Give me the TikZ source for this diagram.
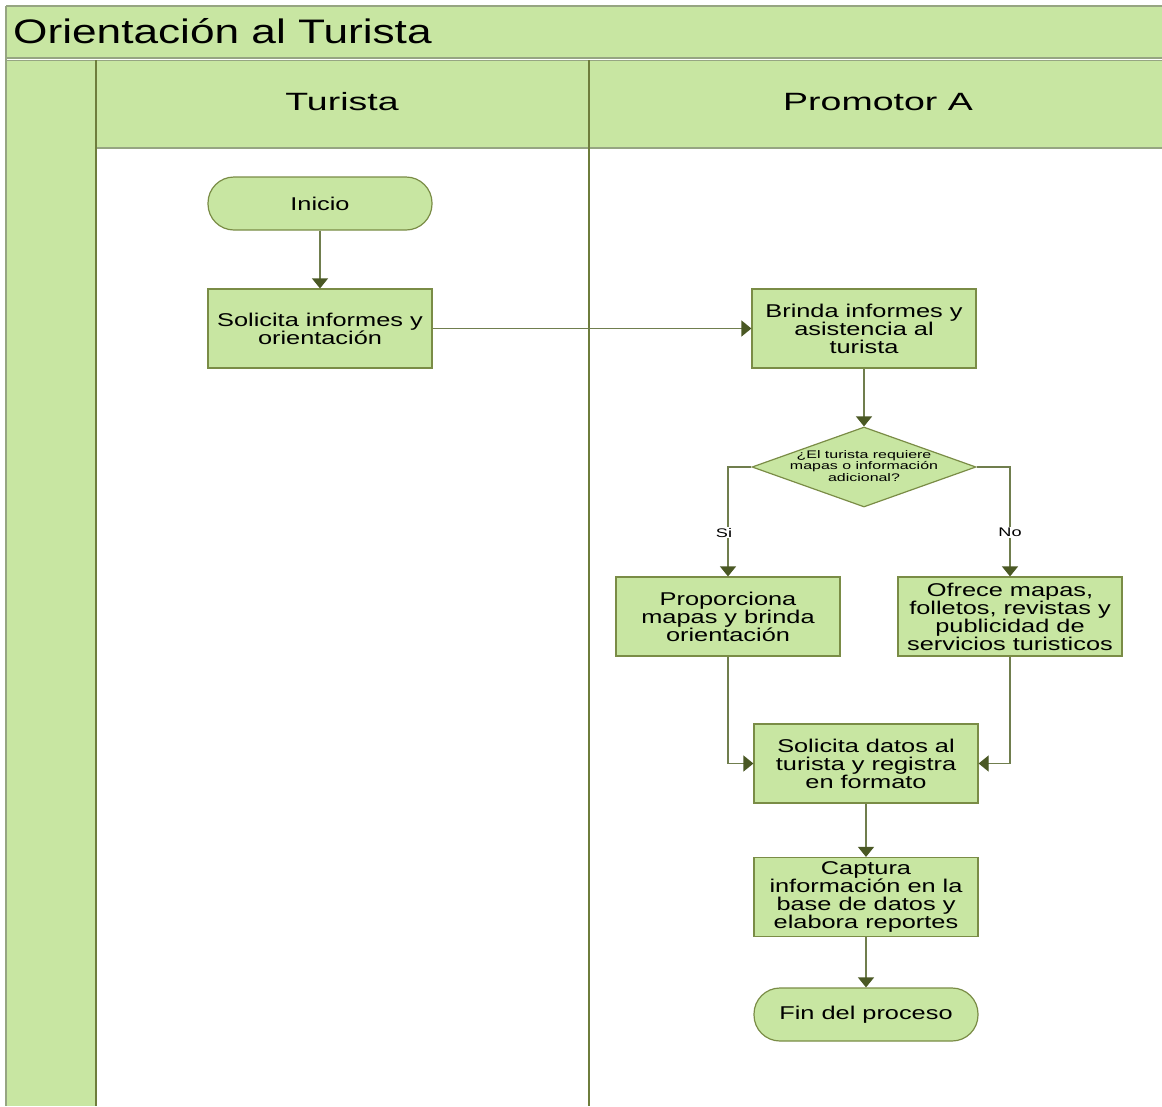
\documentclass[tikz,border=0pt]{standalone}
\usepackage{fontspec}
\setmainfont{Liberation Sans}
\newfontfamily\boxfont[FakeStretch=1.37]{Liberation Sans}
\newfontfamily\headfont[FakeStretch=1.5]{Liberation Sans}
\newfontfamily\titlefont[FakeStretch=1.3]{Liberation Sans}
\newfontfamily\smallfont[FakeStretch=1.45]{Liberation Sans}
\usetikzlibrary{arrows.meta,shapes.geometric}

% keep a fixed baseline distance in multi-line labels
\newcommand\tightlines{\lineskiplimit=-20pt\relax}

\definecolor{flowfill}{RGB}{200,230,162}
\definecolor{flowedge}{RGB}{122,140,70}
\definecolor{laneline}{RGB}{110,125,60}
\definecolor{headline}{RGB}{150,165,130}
\definecolor{tipcol}{RGB}{74,88,36}
\definecolor{wirecol}{RGB}{112,126,78}

\tikzset{
  procbox/.style={rectangle, draw=flowedge, fill=flowfill, line width=1.2pt,
    minimum width=224pt, minimum height=79pt, inner sep=0pt, align=center,
    font=\boxfont\fontsize{18.5}{18}\selectfont\tightlines},
  termbox/.style={procbox, rounded corners=26pt, minimum height=53pt},
  decbox/.style={diamond, draw=flowedge, fill=flowfill, line width=1.2pt,
    minimum width=224pt, minimum height=80pt, inner sep=0pt},
  dectext/.style={align=center, inner sep=0pt,
    font=\smallfont\fontsize{11}{11.5}\selectfont\tightlines},
  flow/.style={draw=wirecol, line width=1.2pt,
    -{Triangle[width=16pt,length=10pt,color=tipcol]}},
  branchlabel/.style={fill=white, inner sep=1pt, font=\smallfont\fontsize{12.5}{12.5}\selectfont},
  lanehead/.style={font=\headfont\fontsize{25}{25}\selectfont},
}

\begin{document}
\begin{tikzpicture}[x=1pt,y=-1pt]
\useasboundingbox (0,0) rectangle (1162,1106);

% pool title band, pool side column and lane header band
\fill[flowfill] (6,6) rectangle (1162,58);
\fill[flowfill] (6,60) rectangle (96,1106);
\fill[flowfill] (96,60) rectangle (1162,148);
\draw[headline, line width=1.5pt] (6,6) -- (1162,6);
\draw[headline, line width=1.2pt] (6,58) -- (1162,58);
\draw[headline, line width=1.2pt] (6,60.5) -- (1162,60.5);
\draw[headline, line width=1.5pt] (96,148) -- (1162,148);
\draw[headline, line width=1.2pt] (6,6) -- (6,1106);
\draw[laneline, line width=2pt] (96,60) -- (96,1106);
\draw[laneline, line width=1.6pt] (589,60) -- (589,1106);

\node[anchor=west, inner sep=0pt, font=\titlefont\fontsize{34}{34}\selectfont] (title) at (13,31) {Orientación al Turista};
\node[lanehead] (laneT) at (342,102) {Turista};
\node[lanehead] (laneP) at (878,102) {Promotor A};

% flow nodes
\node[termbox] (inicio) at (320,203.5) {Inicio};
\node[procbox] (solinf) at (320,328.5) {Solicita informes y\\orientación};
\node[procbox] (brinda) at (864,328.5) {Brinda informes y\\asistencia al\\turista};
\node[decbox] (dec) at (864,467) {};
\node[dectext] (dectxt) at (864,466) {¿El turista requiere\\mapas o información\\adicional?};
\node[procbox] (prop) at (728,616.5) {Proporciona\\mapas y brinda\\orientación};
\node[procbox] (ofrece) at (1010,616.5) {Ofrece mapas,\\folletos, revistas y\\publicidad de\\servicios turisticos};
\node[procbox] (datos) at (866,763.5) {Solicita datos al\\turista y registra\\en formato};
\node[procbox] (captura) at (866,897) {Captura\\información en la\\base de datos y\\elabora reportes};
\node[termbox] (fin) at (866,1014.5) {Fin del proceso};

% connectors
\draw[flow] (inicio) -- (solinf);
\draw[flow] (solinf) -- (brinda);
\draw[flow] (brinda) -- (dec);
\draw[flow] (dec.west) -| (prop.north) node[branchlabel, pos=0.8, xshift=-4pt] (si) {Si};
\draw[flow] (dec.east) -| (ofrece.north) node[branchlabel, pos=0.8] (no) {No};
\draw[flow] (prop.south) |- (datos.west);
\draw[flow] (ofrece.south) |- (datos.east);
\draw[flow] (datos) -- (captura);
\draw[flow] (captura) -- (fin);
\end{tikzpicture}
\end{document}
